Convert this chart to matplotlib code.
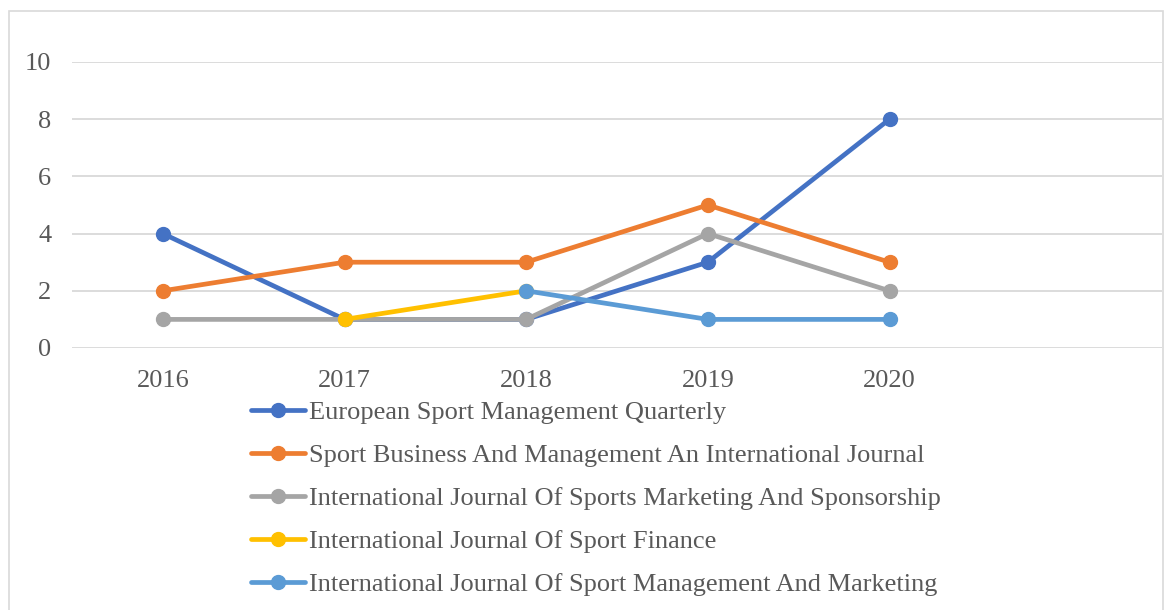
import matplotlib
matplotlib.use("Agg")
import matplotlib.pyplot as plt
import numpy as np
from matplotlib.patches import Rectangle

# Publications per journal and year
years = ["2016", "2017", "2018", "2019", "2020", ""]
esmq = [4, 1, 1, 3, 8]
sbm = [2, 3, 3, 5, 3]
ijsms = [1, 1, 1, 4, 2]
ijsf = [np.nan, 1, 2, np.nan, np.nan]
ijsmm = [np.nan, np.nan, 2, 1, 1]

series_names = [
    "European Sport Management Quarterly",
    "Sport Business And Management An International Journal",
    "International Journal Of Sports Marketing And Sponsorship",
    "International Journal Of Sport Finance",
    "International Journal Of Sport Management And Marketing",
]
colors = ["#4472C4", "#ED7D31", "#A5A5A5", "#FFC000", "#5B9BD5"]

plt.rcParams["font.family"] = ["Liberation Serif", "DejaVu Serif"]
text_color = "#595959"
grid_color = "#D9D9D9"

W, H = 1173, 610
fig = plt.figure(figsize=(W / 100, H / 100), dpi=100)
ax = fig.add_axes([72 / W, 1 - 348 / H, (1162 - 72) / W, (348 - 62) / H])

x = np.arange(len(esmq))
for vals, name, c in zip([esmq, sbm, ijsms, ijsf, ijsmm], series_names, colors):
    ax.plot(x, vals, color=c, lw=3.4, marker="o", ms=10, label=name,
            solid_capstyle="round")

ax.set_xlim(-0.5, len(years) - 0.5)
ax.set_ylim(0, 10)
ax.set_xticks(np.arange(len(years)))
ax.set_xticklabels(years)
ax.set_yticks(range(0, 11, 2))
ax.tick_params(axis="both", length=0, labelsize=19, labelcolor=text_color)
ax.tick_params(axis="x", pad=16)
ax.tick_params(axis="y", pad=15)
ax.grid(axis="y", color=grid_color, lw=1.3)
ax.set_axisbelow(True)
for s in ax.spines.values():
    s.set_visible(False)

leg = fig.legend(loc="upper left", bbox_to_anchor=(240 / W, 1 - 390 / H),
                 frameon=False, fontsize=19, handlelength=2.05,
                 handletextpad=0.15, labelspacing=0.74, borderaxespad=0)
for t in leg.get_texts():
    t.set_color(text_color)

# outer chart border
fig.patches.append(Rectangle((9 / W, -0.01), (1163 - 9) / W, 1 - 11 / H + 0.01,
                             transform=fig.transFigure, fill=False,
                             edgecolor=grid_color, lw=1.2))

fig.savefig("out.png", dpi=100)
